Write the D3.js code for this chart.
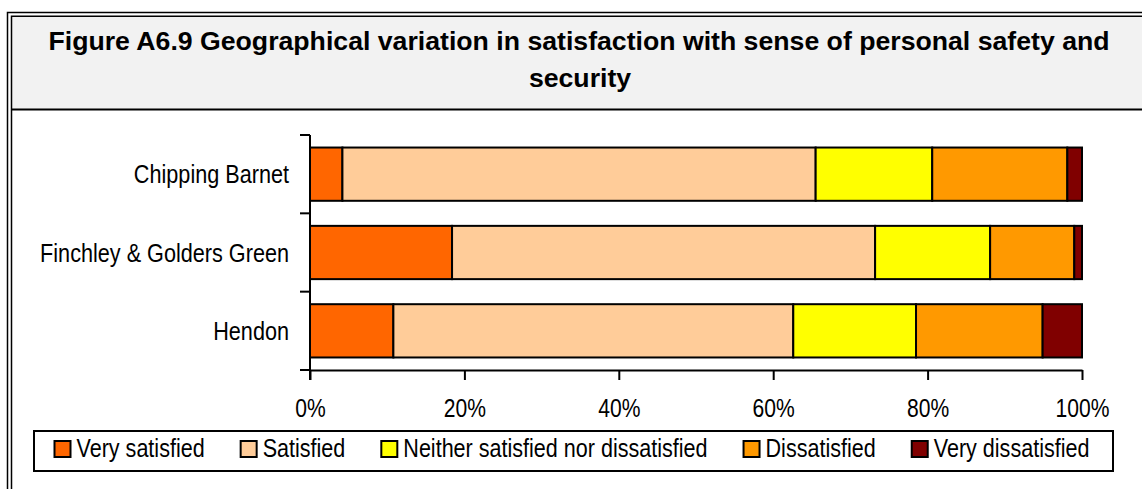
<!DOCTYPE html>
<html>
<head>
<meta charset="utf-8">
<script src="https://cdn.jsdelivr.net/npm/d3@7"></script>
<style>
  html, body { margin: 0; padding: 0; background: #ffffff; }
  svg { display: block; }
</style>
</head>
<body>
<svg id="chart" width="1142" height="489"></svg>
<script>
const titleLines = ["Figure A6.9 Geographical variation in satisfaction with sense of personal safety and", "security"];
const categories = ["Chipping Barnet", "Finchley & Golders Green", "Hendon"];
const seriesNames = ["Very satisfied", "Satisfied", "Neither satisfied nor dissatisfied", "Dissatisfied", "Very dissatisfied"];
const seriesColors = ["#FF6600", "#FFCC99", "#FFFF00", "#FF9900", "#800000"];
const verySatisfied = [4.2, 18.4, 10.8];
const satisfied = [61.3, 54.8, 51.8];
const neither = [15.1, 14.9, 15.9];
const dissatisfied = [17.5, 10.9, 16.4];
const veryDissatisfied = [1.9, 1.0, 5.1];
const xTicks = [0, 20, 40, 60, 80, 100];

const W = 1142, H = 489;
const NARROW = 0.82;
const FONT = "'Liberation Sans', Arial, sans-serif";
const svg = d3.select("#chart");

// Frame (double line) and title header
svg.append("rect").attr("x", 11).attr("y", 16).attr("width", W + 10).attr("height", 93)
  .attr("fill", "#F2F2F2");
svg.append("path").attr("d", `M7.5,${H + 5}V12.5H${W + 5}`).attr("fill", "none")
  .attr("stroke", "#000").attr("stroke-width", 1.5);
svg.append("path").attr("d", `M11.5,${H + 5}V16.2H${W + 5}`).attr("fill", "none")
  .attr("stroke", "#000").attr("stroke-width", 1.5);
svg.append("line").attr("x1", 11).attr("x2", W + 5).attr("y1", 109.5).attr("y2", 109.5)
  .attr("stroke", "#000").attr("stroke-width", 2);

const titleG = svg.append("g");
const t1 = titleG.append("text").attr("x", 579).attr("y", 50)
  .attr("text-anchor", "middle").attr("font-family", FONT)
  .attr("font-weight", "bold").attr("font-size", 21).attr("fill", "#000").text(titleLines[0]);
const t2 = titleG.append("text").attr("x", 580).attr("y", 86.5)
  .attr("text-anchor", "middle").attr("font-family", FONT)
  .attr("font-weight", "bold").attr("font-size", 21).attr("fill", "#000").text(titleLines[1]);
// fit title width to the header line width
const wanted = 1062;
const got = t1.node().getComputedTextLength();
if (got > 0) {
  const fs = 21 * wanted / got;
  t1.attr("font-size", fs);
  t2.attr("font-size", fs);
}

// Scales
const x = d3.scaleLinear().domain([0, 100]).range([310, 1082]);
const y = d3.scaleBand().domain(categories).range([135, 370]).paddingInner(0.32).paddingOuter(0.16);

// Stacked data
const valuesBySeries = [verySatisfied, satisfied, neither, dissatisfied, veryDissatisfied];
const rows = categories.map((c, i) => {
  const r = { cat: c };
  seriesNames.forEach((s, k) => r[s] = valuesBySeries[k][i]);
  return r;
});
const stack = d3.stack().keys(seriesNames)(rows);

const barG = svg.append("g");
stack.forEach((layer, k) => {
  barG.selectAll(null).data(layer).join("rect")
    .attr("x", d => x(d[0]))
    .attr("width", d => x(d[1]) - x(d[0]))
    .attr("y", d => y(d.data.cat))
    .attr("height", y.bandwidth())
    .attr("fill", seriesColors[k])
    .attr("stroke", "#000").attr("stroke-width", 2);
});

// X axis
const xAxis = d3.axisBottom(x).tickValues(xTicks).tickSize(10).tickSizeOuter(0)
  .tickFormat(d => d + "%");
const xg = svg.append("g").attr("transform", "translate(0,370)").call(xAxis);
xg.select(".domain").attr("stroke", "#000").attr("stroke-width", 2);
xg.selectAll(".tick line").attr("stroke", "#000").attr("stroke-width", 2);
xg.selectAll(".tick text")
  .attr("y", 0).attr("dy", null)
  .attr("transform", `translate(0,47) scale(${NARROW},1)`)
  .attr("font-family", FONT)
  .attr("font-size", 25.7).attr("fill", "#000");

// Y axis (ticks at band boundaries)
const step = y.step();
const yBounds = d3.range(categories.length + 1).map(i => y.range()[0] + i * step);
svg.append("line").attr("x1", 310).attr("x2", 310)
  .attr("y1", yBounds[0]).attr("y2", 380).attr("stroke", "#000").attr("stroke-width", 2);
svg.selectAll(null).data(yBounds).join("line")
  .attr("x1", 300).attr("x2", 310).attr("y1", d => d).attr("y2", d => d)
  .attr("stroke", "#000").attr("stroke-width", 2);
svg.selectAll(null).data(categories).join("text")
  .attr("transform", d => `translate(289,${y(d) + y.bandwidth() / 2 + 9}) scale(${NARROW},1)`)
  .attr("text-anchor", "end")
  .attr("font-family", FONT)
  .attr("font-size", 26.4).attr("fill", "#000")
  .text(d => d);

// Legend
svg.append("rect").attr("x", 34).attr("y", 431).attr("width", 1079).attr("height", 40)
  .attr("fill", "#fff").attr("stroke", "#000").attr("stroke-width", 2);
let lx = 53.5;
seriesNames.forEach((s, k) => {
  svg.append("rect").attr("x", lx + 1).attr("y", 441).attr("width", 16).attr("height", 16)
    .attr("fill", seriesColors[k]).attr("stroke", "#000").attr("stroke-width", 2);
  const t = svg.append("text")
    .attr("transform", `translate(${lx + 23},457) scale(${NARROW},1)`)
    .attr("font-family", FONT)
    .attr("font-size", 26.3).attr("fill", "#000").text(s);
  const w = t.node().getComputedTextLength() * NARROW;
  lx = lx + 23 + w + 35;
});
</script>
</body>
</html>
